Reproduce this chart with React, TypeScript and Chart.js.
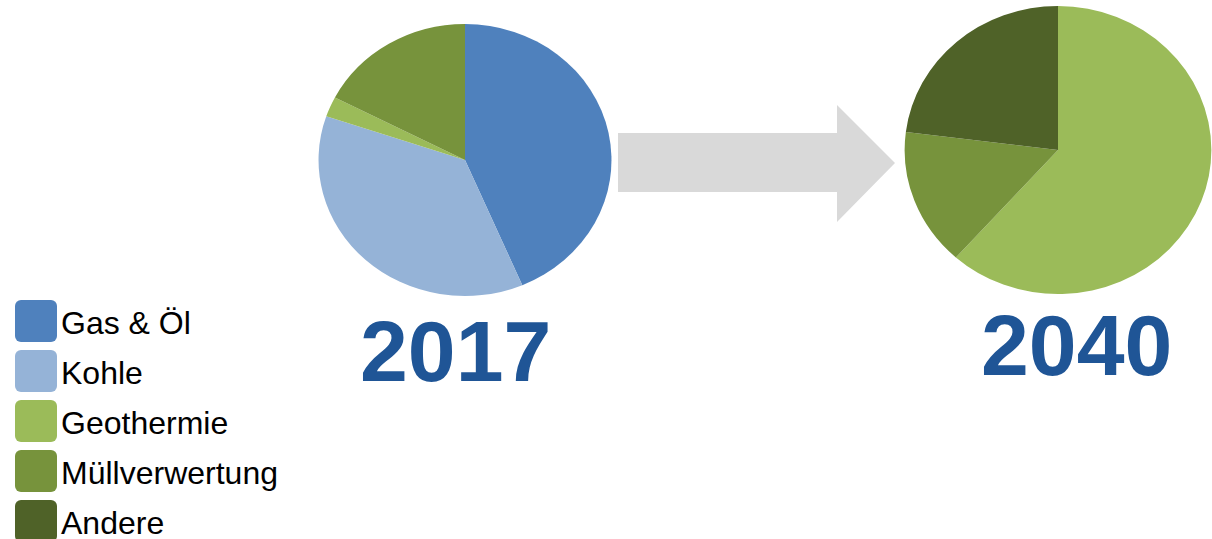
import React, { useEffect, useRef } from "react";
import { Chart, registerables } from "chart.js";

Chart.register(...registerables);

const categories = ["Gas & Öl", "Kohle", "Geothermie", "Müllverwertung", "Andere"];
const colors = ["#4F81BD", "#95B3D7", "#9BBB59", "#77933C", "#4F6228"];
const values2017 = [43.6, 36.6, 2.4, 17.4, 0];
const values2040 = [0, 0, 61.6, 15.4, 23.0];
const yearLabels = ["2017", "2040"];

const FONT = "'Liberation Sans', Arial, Helvetica, sans-serif";

function makeEllipsePlugin(sx: number) {
  return {
    id: "ellipse",
    beforeDatasetsDraw(chart: any) {
      const meta = chart.getDatasetMeta(0);
      const el = meta.data[0];
      if (!el) return;
      const ctx = chart.ctx;
      ctx.save();
      ctx.translate(el.x, el.y);
      ctx.scale(sx, 1);
      ctx.translate(-el.x, -el.y);
    },
    afterDatasetsDraw(chart: any) {
      chart.ctx.restore();
    },
  };
}

function PieCanvas(props: {
  values: number[];
  left: number;
  top: number;
  width: number;
  height: number;
  padding: number;
  sx: number;
}) {
  const ref = useRef<HTMLCanvasElement | null>(null);
  useEffect(() => {
    if (!ref.current) return;
    const chart = new Chart(ref.current, {
      type: "pie",
      data: {
        labels: categories,
        datasets: [
          {
            data: props.values,
            backgroundColor: colors,
            borderWidth: 0,
            hoverOffset: 0,
          },
        ],
      },
      options: {
        responsive: false,
        maintainAspectRatio: false,
        animation: false,
        events: [],
        layout: { padding: props.padding },
        plugins: {
          legend: { display: false },
          tooltip: { enabled: false },
        },
      },
      plugins: [makeEllipsePlugin(props.sx)],
    } as any);
    return () => chart.destroy();
  }, []);
  return (
    <canvas
      ref={ref}
      width={props.width}
      height={props.height}
      style={{
        position: "absolute",
        left: props.left,
        top: props.top,
        width: props.width,
        height: props.height,
      }}
    />
  );
}

export default function App() {
  return (
    <div
      style={{
        position: "absolute",
        left: 0,
        top: 0,
        width: 1212,
        height: 539,
        overflow: "hidden",
        background: "#ffffff",
        fontFamily: FONT,
      }}
    >
      <svg
        width={1212}
        height={539}
        style={{ position: "absolute", left: 0, top: 0 }}
      >
        <polygon
          points="618,133 837,133 837,105 895,163 837,222 837,192 618,192"
          fill="#D9D9D9"
        />
      </svg>
      <PieCanvas values={values2017} left={310} top={10} width={310} height={300} padding={14} sx={1.077} />
      <PieCanvas values={values2040} left={903} top={0} width={310} height={300} padding={6} sx={1.065} />

      <div
        style={{
          position: "absolute",
          left: 360,
          top: 308,
          fontSize: 86,
          lineHeight: "86px",
          fontWeight: "bold",
          color: "#1F5596",
          whiteSpace: "nowrap",
        }}
      >
        {yearLabels[0]}
      </div>
      <div
        style={{
          position: "absolute",
          left: 981,
          top: 302,
          fontSize: 86,
          lineHeight: "86px",
          fontWeight: "bold",
          color: "#1F5596",
          whiteSpace: "nowrap",
        }}
      >
        {yearLabels[1]}
      </div>

      {categories.map((c, i) => (
        <React.Fragment key={c}>
          <div
            style={{
              position: "absolute",
              left: 15,
              top: 300 + 50 * i,
              width: 42,
              height: 42,
              borderRadius: 6,
              background: colors[i],
            }}
          />
          <div
            style={{
              position: "absolute",
              left: 61,
              top: 302 + 50 * i,
              height: 42,
              lineHeight: "42px",
              fontSize: 32,
              color: "#000000",
              whiteSpace: "nowrap",
            }}
          >
            {c}
          </div>
        </React.Fragment>
      ))}
    </div>
  );
}
